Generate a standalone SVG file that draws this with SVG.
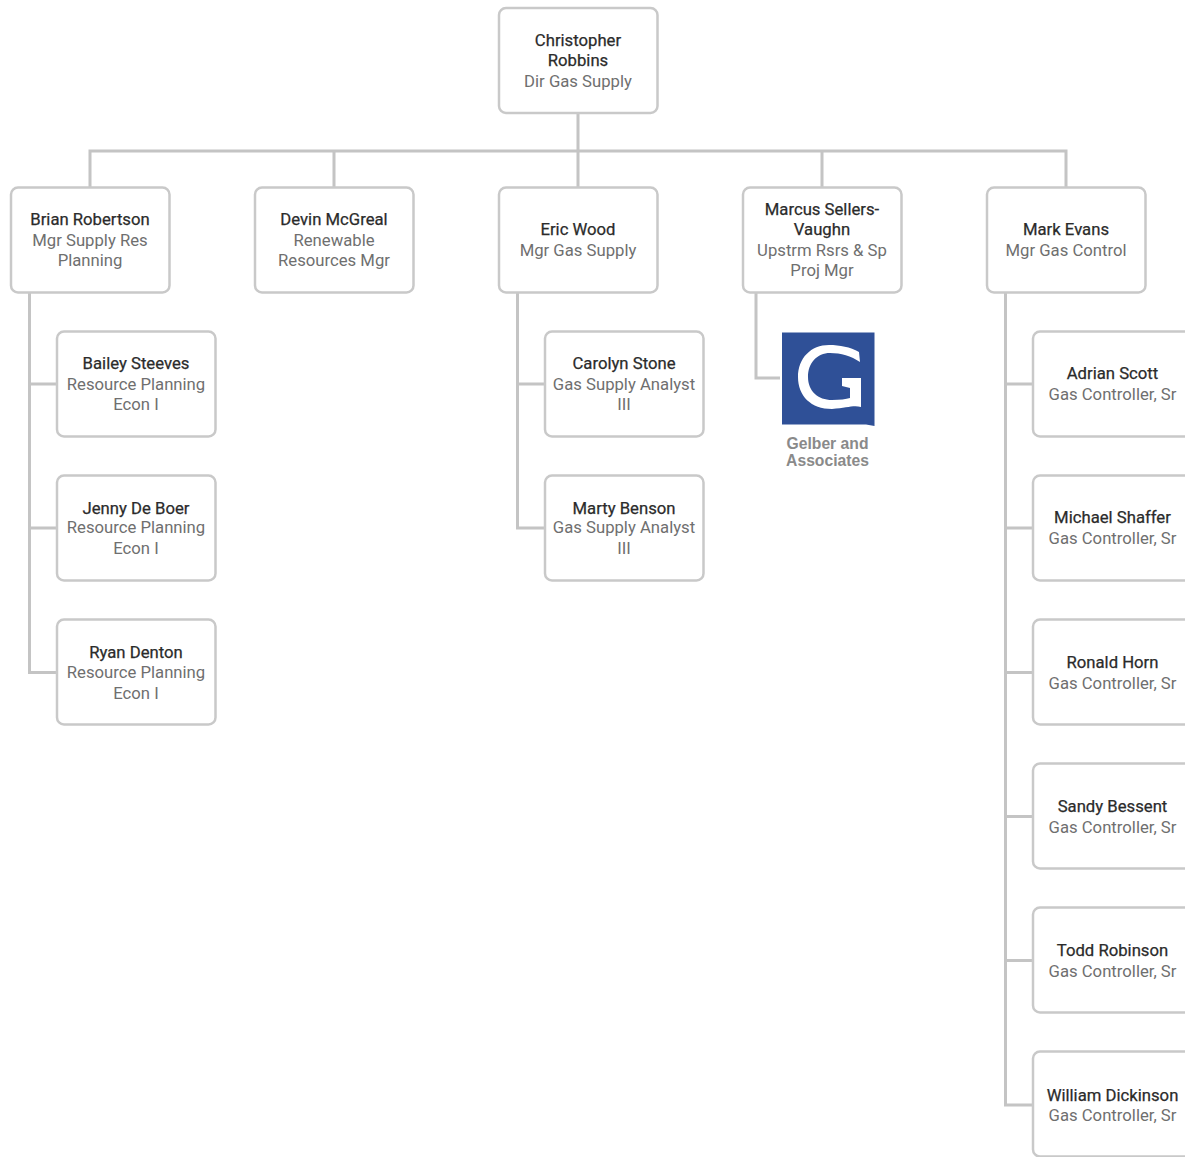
<svg xmlns="http://www.w3.org/2000/svg" width="1185" height="1157" viewBox="0 0 1185 1157">
<style>
.box{fill:#fff;stroke:#c9c9c9;stroke-width:2.5}
.c{fill:none;stroke:#c4c4c4;stroke-width:3}
text{font-family:Roboto,"Liberation Sans",sans-serif;font-size:16.700px;text-anchor:middle}
.n{fill:#2b2b2b;stroke:#2b2b2b;stroke-width:.25}
.t{fill:#6f6f6f}
</style>
<defs><rect id="b" width="158.500" height="105" rx="7" class="box"/></defs>
<rect width="1185" height="1157" fill="#fff"/>
<g id="connectors">
<path class="c" d="M578 113V187M90 187V151H1066V187M334 151V187M822 151V187"/>
<path class="c" d="M29.500 293V672.500H57M29.500 384H57M29.500 528H57"/>
<path class="c" d="M517.500 293V528H545M517.500 384H545"/>
<path class="c" d="M756 293V378H780"/>
<path class="c" d="M1005.500 293V1105H1033M1005.500 384H1033M1005.500 528H1033M1005.500 672.500H1033M1005.500 816.500H1033M1005.500 960.500H1033"/>
</g>
<g id="n-robbins"><use href="#b" x="499" y="8"/><text x="578" y="46" class="n">Christopher</text><text x="578" y="66" class="n">Robbins</text><text x="578" y="87" class="t">Dir Gas Supply</text></g>
<g id="n-robertson"><use href="#b" x="11" y="187.500"/><text x="90" y="225" class="n">Brian Robertson</text><text x="90" y="246" class="t">Mgr Supply Res</text><text x="90" y="266" class="t">Planning</text></g>
<g id="n-mcgreal"><use href="#b" x="255" y="187.500"/><text x="334" y="225" class="n">Devin McGreal</text><text x="334" y="246" class="t">Renewable</text><text x="334" y="266" class="t">Resources Mgr</text></g>
<g id="n-wood"><use href="#b" x="499" y="187.500"/><text x="578" y="235" class="n">Eric Wood</text><text x="578" y="256" class="t">Mgr Gas Supply</text></g>
<g id="n-sellers"><use href="#b" x="743" y="187.500"/><text x="822" y="215" class="n">Marcus Sellers-</text><text x="822" y="235" class="n">Vaughn</text><text x="822" y="256" class="t">Upstrm Rsrs &amp; Sp</text><text x="822" y="276" class="t">Proj Mgr</text></g>
<g id="n-evans"><use href="#b" x="987" y="187.500"/><text x="1066" y="235" class="n">Mark Evans</text><text x="1066" y="256" class="t">Mgr Gas Control</text></g>
<g id="n-steeves"><use href="#b" x="57" y="331.500"/><text x="136" y="369" class="n">Bailey Steeves</text><text x="136" y="390" class="t">Resource Planning</text><text x="136" y="410" class="t">Econ I</text></g>
<g id="n-deboer"><use href="#b" x="57" y="475.500"/><text x="136" y="514" class="n">Jenny De Boer</text><text x="136" y="533" class="t">Resource Planning</text><text x="136" y="554" class="t">Econ I</text></g>
<g id="n-denton"><use href="#b" x="57" y="619.500"/><text x="136" y="658" class="n">Ryan Denton</text><text x="136" y="678" class="t">Resource Planning</text><text x="136" y="699" class="t">Econ I</text></g>
<g id="n-stone"><use href="#b" x="545" y="331.500"/><text x="624" y="369" class="n">Carolyn Stone</text><text x="624" y="390" class="t">Gas Supply Analyst</text><text x="624" y="410" class="t">III</text></g>
<g id="n-benson"><use href="#b" x="545" y="475.500"/><text x="624" y="514" class="n">Marty Benson</text><text x="624" y="533" class="t">Gas Supply Analyst</text><text x="624" y="554" class="t">III</text></g>
<g id="n-gelber">
<path fill="#2f5097" d="M782 332.500H874.500V426L866 424.500H782Z"/>
<path fill="#fff" d="M859 352L860 362C851 356 841 353 830 353C817 353 808 363 808 377C808 391 818 400 832 400C840 400 846 399 850 398L850 388L842 386L842 378L861 378L861 407C853 405 847 408 832 409C811 409 798 396 798 377C798 358 811 345 829 345C840 345 850 347 859 352Z"/>
<text x="827.500" y="449" style="font-family:'Liberation Sans',sans-serif;font-size:15.700px;font-weight:bold" fill="#8a8a8a">Gelber and</text>
<text x="827.500" y="466" style="font-family:'Liberation Sans',sans-serif;font-size:15.700px;font-weight:bold" fill="#8a8a8a">Associates</text>
</g>
<g id="n-scott"><use href="#b" x="1033" y="331.500"/><text x="1112.500" y="379" class="n">Adrian Scott</text><text x="1112.500" y="400" class="t">Gas Controller, Sr</text></g>
<g id="n-shaffer"><use href="#b" x="1033" y="475.500"/><text x="1112.500" y="523" class="n">Michael Shaffer</text><text x="1112.500" y="544" class="t">Gas Controller, Sr</text></g>
<g id="n-horn"><use href="#b" x="1033" y="619.500"/><text x="1112.500" y="668" class="n">Ronald Horn</text><text x="1112.500" y="688.500" class="t">Gas Controller, Sr</text></g>
<g id="n-bessent"><use href="#b" x="1033" y="763.500"/><text x="1112.500" y="812" class="n">Sandy Bessent</text><text x="1112.500" y="832.500" class="t">Gas Controller, Sr</text></g>
<g id="n-robinson"><use href="#b" x="1033" y="907.500"/><text x="1112.500" y="956" class="n">Todd Robinson</text><text x="1112.500" y="976.500" class="t">Gas Controller, Sr</text></g>
<g id="n-dickinson"><use href="#b" x="1033" y="1051.500"/><text x="1112.500" y="1101" class="n">William Dickinson</text><text x="1112.500" y="1121" class="t">Gas Controller, Sr</text></g>
</svg>
